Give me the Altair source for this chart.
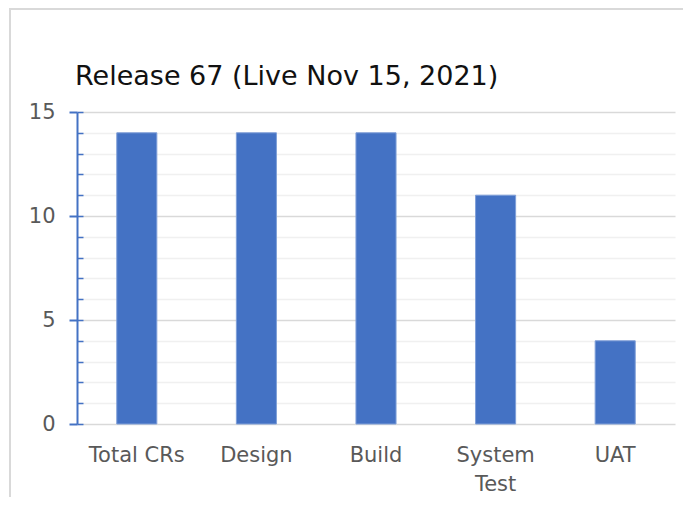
import altair as alt
import pandas as pd

title_text = "Release 67 (Live Nov 15, 2021)"
categories = ["Total CRs", "Design", "Build", "System Test", "UAT"]
counts = [14, 14, 14, 11, 4]
y_all_ticks = list(range(0, 16))

df = pd.DataFrame({"stage": categories, "count": counts})

FONT = "DejaVu Sans"
BLUE = "#4472C4"
major_test = "datum.value % 5 === 0"

x_enc = alt.X(
    "stage:N", sort=categories, title=None,
    scale=alt.Scale(paddingInner=0.665, paddingOuter=0.3325),
    axis=alt.Axis(
        labelAngle=0, domain=False, ticks=False, labelFontSize=21,
        labelColor="#595959", labelFont=FONT, labelPadding=20,
        labelLineHeight=29,
        labelExpr="datum.label == 'System Test' ? ['System', 'Test'] : datum.label",
    ),
)
yscale = alt.Scale(domain=[0, 15], nice=False, zero=True)

border = alt.Chart(pd.DataFrame({"b": [0]})).mark_rect(
    fill="transparent", stroke="#d9d9d9", strokeWidth=2
).encode(
    x=alt.value(-67), x2=alt.value(720), y=alt.value(-103), y2=alt.value(520)
)

title = alt.Chart(pd.DataFrame({"t": [title_text]})).mark_text(
    align="left", baseline="alphabetic", fontSize=27, font=FONT, color="#111111"
).encode(text="t:N", x=alt.value(-2), y=alt.value(-27))

bars = alt.Chart(df).mark_bar(color=BLUE, stroke="#7f9fd8", strokeWidth=1).encode(
    x=x_enc,
    y=alt.Y(
        "count:Q", scale=yscale, title=None,
        axis=alt.Axis(
            orient="left", values=y_all_ticks, grid=True,
            gridColor={"condition": {"test": major_test, "value": "#d9d9d9"}, "value": "#f0f0f0"},
            gridWidth=1.5,
            labelExpr="datum.value % 5 === 0 ? datum.label : ''",
            labelFontSize=21, labelColor="#595959", labelFont=FONT, labelPadding=14,
            tickColor={"condition": {"test": major_test, "value": BLUE}, "value": "transparent"},
            tickSize=8, tickWidth=2,
            domainColor=BLUE, domainWidth=2,
        ),
    ),
)

inner_ticks = alt.Chart(df).mark_bar(opacity=0).encode(
    x=x_enc,
    y=alt.Y(
        "count:Q", scale=yscale, title=None,
        axis=alt.Axis(
            orient="left", offset=-6, values=y_all_ticks, grid=False,
            domain=False, labels=False, tickSize=6, tickWidth=1.5, tickColor=BLUE,
        ),
    ),
)

chart = alt.layer(border, title, bars, inner_ticks).resolve_axis(y="independent").properties(
    width=598, height=312,
    autosize=alt.AutoSizeParams(type="none"),
    padding={"left": 69, "top": 104, "right": 8, "bottom": 73},
).configure_view(stroke=None)

chart.save("out.html", embed_options={"renderer": "svg", "actions": False})
